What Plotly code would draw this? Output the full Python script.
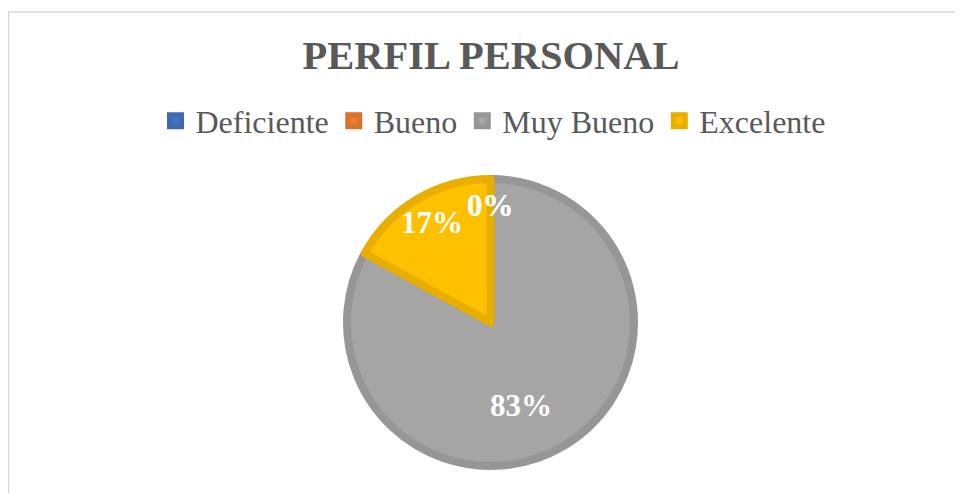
import plotly.graph_objects as go

# categories and shares
categorias = ["Deficiente", "Bueno", "Muy Bueno", "Excelente"]
porcentajes = [0, 0, 83, 17]

# fill colours and the darker outline Excel draws around each slice
colores = ["#4472C4", "#ED7D31", "#A5A5A5", "#FFC000"]
bordes = ["#3F69B5", "#D9722D", "#969696", "#E8AE00"]

fuente = "Liberation Serif, Times New Roman, serif"

# page body adds 8px, so the figure is 8px smaller and positions are in figure px
W, H = 955, 485

fig = go.Figure(data=[go.Pie(
    labels=categorias,
    values=porcentajes,
    sort=False,
    direction="clockwise",
    rotation=0,
    marker=dict(colors=colores, line=dict(color=bordes, width=8)),
    textinfo="none",
    hoverinfo="label+percent",
    domain=dict(x=[339 / W, 626 / W], y=[27 / H, 314 / H]),
)])

# data labels placed where Excel's best-fit put them (the 0% ones overlap)
etiquetas = [(482, 197), (482, 197), (513, 417), (424, 214)]
for p, (lx, ly) in zip(porcentajes, etiquetas):
    fig.add_annotation(
        x=lx / W, y=1 - ly / H, xref="paper", yref="paper",
        text=f"<b>{p}%</b>", showarrow=False,
        font=dict(family=fuente, size=31, color="white"),
    )

# light chart-area border (only top/left edges are visible in the crop)
fig.add_shape(
    type="rect", xref="paper", yref="paper",
    x0=0.5 / W, x1=1.05, y0=-0.05, y1=1 - 4 / H,
    line=dict(color="#D9D9D9", width=1.5),
)

fig.update_layout(
    width=W,
    height=H,
    margin=dict(l=0, r=0, t=0, b=0),
    paper_bgcolor="white",
    plot_bgcolor="white",
    title=dict(
        text="<b>PERFIL PERSONAL</b>",
        x=483 / W, xanchor="center",
        y=1 - 47 / H, yanchor="middle",
        font=dict(family=fuente, size=40.5, color="#595959"),
    ),
    legend=dict(
        orientation="h",
        x=485 / W, xanchor="center",
        y=1 - 113 / H, yanchor="middle",
        font=dict(family=fuente, size=32, color="#595959"),
        traceorder="normal",
    ),
)

fig.write_html("out.html")
